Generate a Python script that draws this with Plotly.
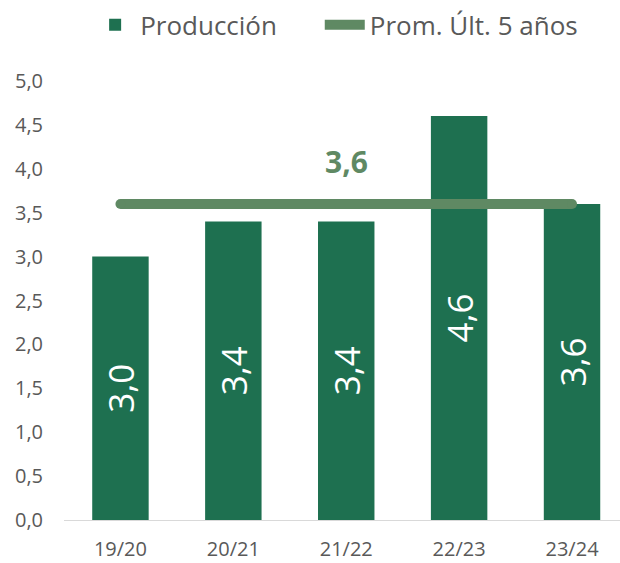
import plotly.graph_objects as go

categories = ["19/20", "20/21", "21/22", "22/23", "23/24"]
produccion = [3.0, 3.4, 3.4, 4.6, 3.6]
prom_ult5 = [3.6, 3.6, 3.6, 3.6, 3.6]
prom_label = "3,6"
y_ticks = [0, 0.5, 1.0, 1.5, 2.0, 2.5, 3.0, 3.5, 4.0, 4.5, 5.0]

BAR = "#1E7050"
LINE = "#5F8963"
TXT = "#595959"
FONT = "Open Sans"

fig = go.Figure()
fig.add_trace(go.Bar(
    x=categories, y=produccion, name="Producción",
    marker=dict(color=BAR, line=dict(width=0)),
    width=0.5, legend="legend",
    text=[f"{v:.1f}".replace(".", ",") for v in produccion],
    textposition="inside", insidetextanchor="middle", textangle=-90,
    textfont=dict(color="white", size=35, family=FONT),
))
fig.add_trace(go.Scatter(
    x=categories, y=prom_ult5, name="Prom. Últ. 5 años", mode="lines",
    line=dict(color=LINE, width=10), legend="legend2",
))
fig.add_trace(go.Scatter(
    x=[categories[0], categories[-1]], y=[prom_ult5[0], prom_ult5[-1]],
    mode="markers", marker=dict(color=LINE, size=10, line=dict(width=0)),
    showlegend=False, hoverinfo="skip",
))
fig.add_annotation(
    x=categories[2], y=prom_ult5[2], text=f"<b>{prom_label}</b>",
    showarrow=False, yanchor="bottom", yshift=20,
    font=dict(color=LINE, size=30, family=FONT),
)

legend_style = dict(orientation="h", xanchor="left", y=1.128, yanchor="middle",
                    font=dict(size=26, color=TXT, family=FONT), itemwidth=40,
                    bgcolor="rgba(0,0,0,0)")

fig.update_layout(
    width=620, height=563,
    margin=dict(l=64, r=0, t=81, b=43),
    paper_bgcolor="white", plot_bgcolor="white",
    separators=",.",
    font=dict(family=FONT, color=TXT),
    showlegend=True,
    legend=dict(x=0.047, **legend_style),
    legend2=dict(x=0.46, **legend_style),
    xaxis=dict(range=[-0.5, 4.425], showgrid=False, showline=True, linecolor="#D9D9D9",
               linewidth=1, ticks="", tickfont=dict(size=20, color=TXT),
               ticklabelstandoff=11),
    yaxis=dict(range=[0, 5], tickvals=y_ticks, tickformat=".1f", showgrid=False,
               zeroline=False, showline=False, ticks="",
               tickfont=dict(size=20, color=TXT), ticklabelstandoff=20),
)

fig.write_html("out.html", config={"displayModeBar": False},
               post_script="document.body.style.margin='0';")
